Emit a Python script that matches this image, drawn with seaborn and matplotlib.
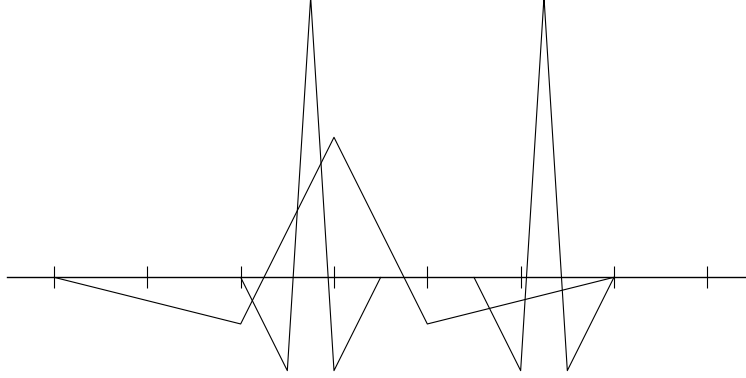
"""
Two black line traces drawn over a bare centred x axis with ticks.
"""

import matplotlib
matplotlib.use("Agg")
import matplotlib.pyplot as plt
import seaborn as sns

# spike trace, two separate bursts (peaks run off the top of the frame)
spike_x = [2, 2.5, 2.75, 3, 3.5, 4.5, 5, 5.25, 5.5, 6]
spike_y = [0, -1, 3, -1, 0, 0, -1, 3, -1, 0]
spike_burst = [0, 0, 0, 0, 0, 1, 1, 1, 1, 1]

# broad trace
wave_x = [0, 2, 3, 4, 6]
wave_y = [0, -0.5, 1.5, -0.5, 0]

tick_positions = [0, 1, 2, 3, 4, 5, 6, 7]

sns.set_theme(style="white")

DPI = 100
fig = plt.figure(figsize=(7.46, 3.78), dpi=DPI)
ax = fig.add_axes([0, 0, 1, 1])

# 93.33 px per unit on both axes, origin at (54, 277.3) px
unit = 93.33
ax.set_xlim(-54 / unit, (746 - 54) / unit)
ax.set_ylim(-(378 - 277.3) / unit, 277.3 / unit)

sns.lineplot(x=spike_x, y=spike_y, units=spike_burst, sort=False,
             estimator=None, color="black", linewidth=0.8, ax=ax)
sns.lineplot(x=wave_x, y=wave_y, sort=False, estimator=None,
             color="black", linewidth=0.8, ax=ax)

# axis line through y=0 with ticks crossing it
for side in ["top", "left", "right"]:
    ax.spines[side].set_visible(False)
ax.spines["bottom"].set_position(("data", 0))
ax.spines["bottom"].set_bounds(-0.5, 8)
ax.spines["bottom"].set_color("black")
ax.spines["bottom"].set_linewidth(1.0)
ax.set_xticks(tick_positions)
ax.set_xticklabels([])
ax.set_yticks([])
ax.tick_params(axis="x", direction="inout", length=16.3, width=0.8,
               color="black", bottom=True)
ax.set_facecolor("white")
ax.set_xlabel("")
ax.set_ylabel("")

fig.savefig("out.png", dpi=DPI, facecolor="white")
